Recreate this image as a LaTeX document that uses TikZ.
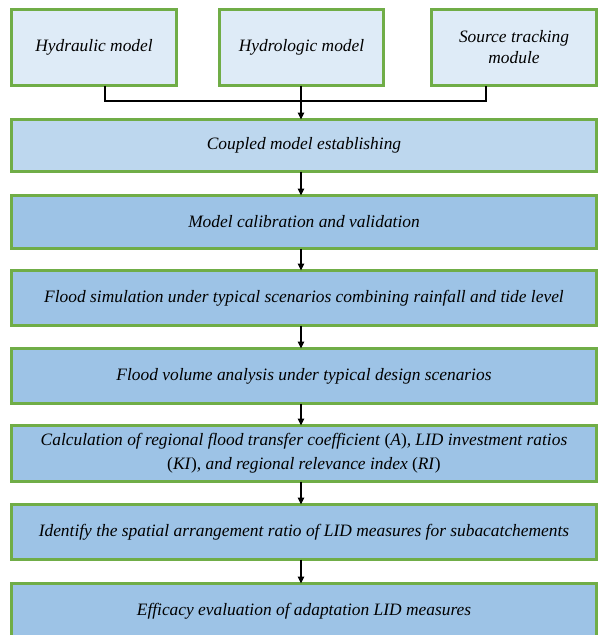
\documentclass[tikz,border=0pt]{standalone}
\usepackage{fontspec}
\setmainfont{Liberation Serif}
\usetikzlibrary{arrows.meta}
\definecolor{bordergreen}{HTML}{70AD47}
\definecolor{fillpale}{HTML}{DEEBF7}
\definecolor{filllight}{HTML}{BDD7EE}
\definecolor{fillmid}{HTML}{9DC3E6}
\newcommand{\upp}[1]{\textup{(}\textit{#1}\textup{)}}
\tikzset{
  topbox/.style={draw=bordergreen, line width=3pt, fill=fillpale, inner sep=2pt, outer sep=0pt,
    minimum height=76pt, align=center, font=\fontsize{17.4}{21}\selectfont\itshape},
  flowbox/.style={draw=bordergreen, line width=3pt, fill=fillmid, inner sep=2pt, outer sep=0pt,
    minimum width=585pt, align=center, font=\fontsize{17.4}{24}\selectfont\itshape},
  conn/.style={line width=1.5pt, black},
  flowarrow/.style={conn, -{Triangle[length=7pt,width=6.5pt]}}
}
\begin{document}
\begin{tikzpicture}[x=1pt,y=1pt]
\useasboundingbox (0,0) rectangle (599,-635);
\node[topbox, minimum width=165pt] (hyd) at (94,-47.5) {Hydraulic model};
\node[topbox, minimum width=164pt] (hlg) at (301.5,-47.5) {Hydrologic model};
\node[topbox, minimum width=165pt] (src) at (514,-47.5) {Source tracking\\module};
\node[flowbox, fill=filllight, minimum height=52pt] (cpl) at (304,-145.5) {Coupled model establishing};
\node[flowbox, minimum height=53pt] (cal) at (304,-222) {Model calibration and validation};
\node[flowbox, minimum height=55pt] (sim) at (304,-298) {Flood simulation under typical scenarios combining rainfall and tide level};
\node[flowbox, minimum height=55pt] (vol) at (304,-376) {Flood volume analysis under typical design scenarios};
\node[flowbox, minimum height=56pt] (clc) at (304,-453.5) {Calculation of regional flood transfer coefficient \upp{A}, LID investment ratios\\\upp{KI}, and regional relevance index \upp{RI}};
\node[flowbox, minimum height=55pt] (idf) at (304,-532) {Identify the spatial arrangement ratio of LID measures for subacatchements};
\node[flowbox, minimum height=55pt, anchor=north] (eff) at (304,-583.5) {Efficacy evaluation of adaptation LID measures};
\coordinate (j1) at (105,-101);
\coordinate (j3) at (486,-101);
\draw[conn] (hyd.south -| j1) -- (j1) -- (j3) -- (src.south -| j3);
\draw[flowarrow] (hlg.south -| 301,0) -- (cpl.north -| 301,0);
\draw[flowarrow] (cpl.south -| 301,0) -- (cal.north -| 301,0);
\draw[flowarrow] (cal.south -| 301,0) -- (sim.north -| 301,0);
\draw[flowarrow] (sim.south -| 301,0) -- (vol.north -| 301,0);
\draw[flowarrow] (vol.south -| 301,0) -- (clc.north -| 301,0);
\draw[flowarrow] (clc.south -| 301,0) -- (idf.north -| 301,0);
\draw[flowarrow] (idf.south -| 301,0) -- (eff.north -| 301,0);
\end{tikzpicture}
\end{document}
